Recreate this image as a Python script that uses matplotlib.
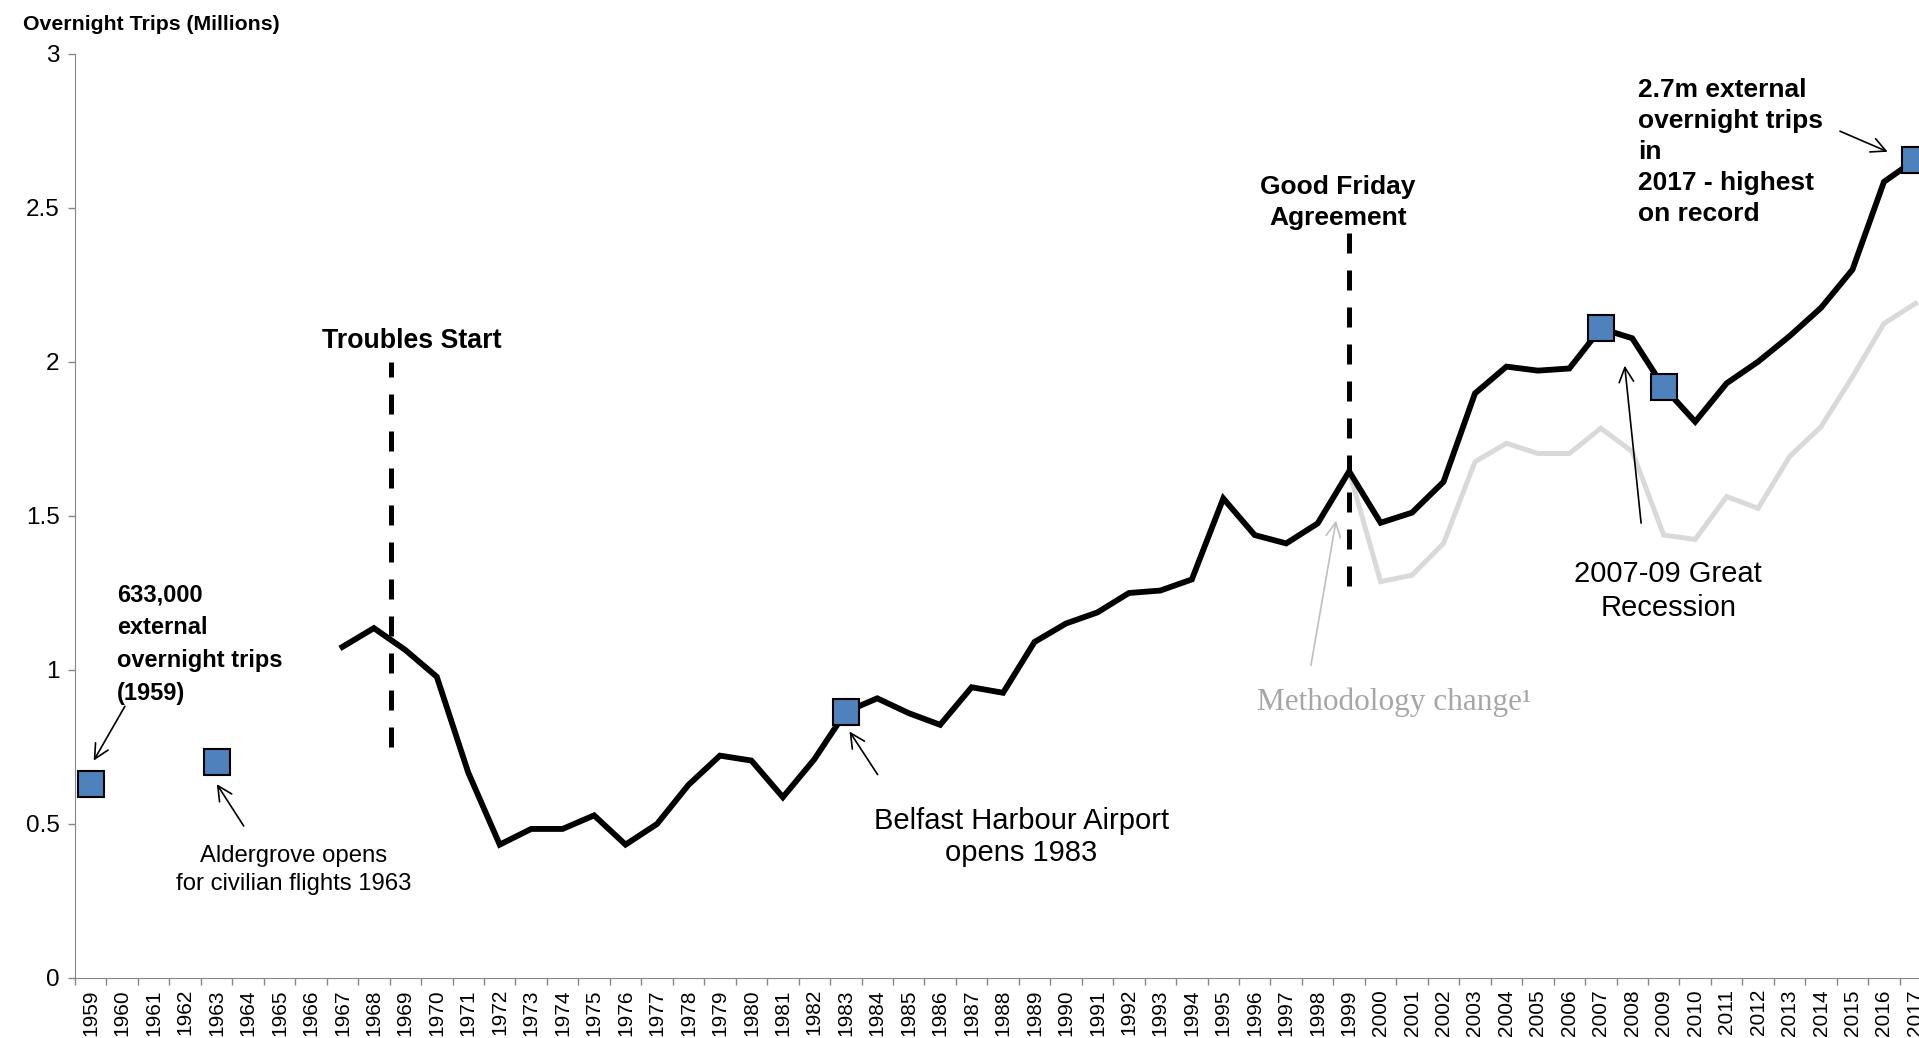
import numpy as np
import matplotlib.pyplot as plt

plt.rcParams['font.family'] = ['Liberation Sans', 'DejaVu Sans']

years = [str(y) for y in range(1959, 2018)]

# external overnight trips (millions), line starts in 1967
trips_start = 1967
trips = [1.075, 1.136, 1.065, 0.978, 0.667, 0.433, 0.484, 0.484, 0.528, 0.433,
         0.500, 0.627, 0.722, 0.706, 0.587, 0.710, 0.864, 0.908, 0.860, 0.822,
         0.944, 0.926, 1.091, 1.151, 1.187, 1.250, 1.258, 1.294, 1.557, 1.438,
         1.411, 1.476, 1.645, 1.478, 1.511, 1.611, 1.898, 1.985, 1.972, 1.979,
         2.109, 2.077, 1.918, 1.806, 1.931, 2.001, 2.084, 2.176, 2.300, 2.585,
         2.657]

# old methodology series from 1999
old_start = 1999
old_trips = [1.645, 1.287, 1.308, 1.411, 1.676, 1.736, 1.703, 1.703, 1.785,
             1.709, 1.438, 1.424, 1.563, 1.525, 1.693, 1.790, 1.952, 2.125,
             2.190]

# highlighted years
mark_years = [1959, 1963, 1983, 2007, 2009, 2017]
mark_vals = [0.630, 0.702, 0.864, 2.109, 1.918, 2.657]

# event lines: (year position, y from, y to)
troubles = (1968.55, 0.75, 2.0)
good_friday = (1999, 2.42, 1.26)

yticks = [0, 0.5, 1, 1.5, 2, 2.5, 3]
ytick_labels = ['0', '0.5', '1', '1.5', '2', '2.5', '3']


def pos(year):
    return np.asarray(year, dtype=float) - 1959


fig = plt.figure(figsize=(19.19, 10.38), dpi=100)
ax = fig.add_axes([75 / 1919, 60 / 1038, 59 * 31.46 / 1919, 924 / 1038])

x_old = pos(np.arange(old_start, old_start + len(old_trips)))
ax.plot(x_old, old_trips, color='#D9D9D9', lw=3.6, zorder=2,
        solid_joinstyle='miter')
x_tr = pos(np.arange(trips_start, trips_start + len(trips)))
ax.plot(x_tr, trips, color='black', lw=4.2, zorder=3, solid_joinstyle='miter')

for ev in (troubles, good_friday):
    ax.plot([pos(ev[0])] * 2, [ev[1], ev[2]], color='black', lw=3.6,
            dashes=(4, 3.4), zorder=4)

ax.plot(pos(mark_years), mark_vals, ls='none', marker='s', ms=18.5,
        mfc='#4F81BD', mec='black', mew=1.5, zorder=5, clip_on=False)

ax.set_xlim(-0.5, 58.5)
ax.set_ylim(0, 3)
ax.set_yticks(yticks)
ax.set_yticklabels(ytick_labels, fontsize=17.5)
ax.set_xticks(np.arange(-0.5, 59), labels=[])
ax.set_xticks(np.arange(59), labels=years, minor=True, rotation=90,
              fontsize=15)
ax.tick_params(axis='x', which='major', length=5, color='#868686', width=1)
ax.tick_params(axis='x', which='minor', length=0, pad=8)
ax.tick_params(axis='y', length=5, color='#868686', width=1, pad=6)
for s in ['top', 'right']:
    ax.spines[s].set_visible(False)
for s in ['left', 'bottom']:
    ax.spines[s].set_color('#868686')

fig.text(23 / 1919, 1 - 30 / 1038, 'Overnight Trips (Millions)',
         fontsize=15.3, fontweight='bold', va='baseline')

arrow = dict(arrowstyle='->', color='black', lw=1.2, mutation_scale=26)

ax.annotate('', xy=(0.05, 0.698), xytext=(1.13, 0.89), arrowprops=arrow)
ax.text(0.84, 1.282, '633,000\nexternal\novernight trips\n(1959)',
        fontsize=17, fontweight='bold', va='top', ha='left', linespacing=1.55)

ax.annotate('', xy=(3.96, 0.637), xytext=(4.91, 0.486), arrowprops=arrow)
ax.text(6.44, 0.432, 'Aldergrove opens\nfor civilian flights 1963',
        fontsize=17.2, va='top', ha='center', linespacing=1.35)

ax.text(10.22, 2.045, 'Troubles Start', fontsize=19.3, fontweight='bold',
        ha='center', va='baseline')

ax.annotate('', xy=(24.07, 0.808), xytext=(25.06, 0.653), arrowprops=arrow)
ax.text(29.58, 0.555, 'Belfast Harbour Airport\nopens 1983', fontsize=21,
        va='top', ha='center', linespacing=1.2)

ax.text(39.65, 2.607, 'Good Friday\nAgreement', fontsize=19,
        fontweight='bold', va='top', ha='center', linespacing=1.36)

ax.annotate('', xy=(39.60, 1.494), xytext=(38.77, 1.006),
            arrowprops=dict(arrowstyle='->', color='#BFBFBF', lw=1.2,
                            mutation_scale=26))
ax.text(37.08, 0.870, 'Methodology change\u00b9', fontsize=22.5,
        family='Liberation Serif', color='#A6A6A6', va='baseline', ha='left')

ax.annotate('', xy=(48.75, 1.997), xytext=(49.29, 1.468), arrowprops=arrow)
ax.text(50.14, 1.357, '2007-09 Great\nRecession', fontsize=21, va='top',
        ha='center', linespacing=1.29)

ax.annotate('', xy=(57.2, 2.679), xytext=(55.52, 2.753), arrowprops=arrow)
ax.text(49.19, 2.922, '2.7m external\novernight trips\nin\n2017 - highest\non record',
        fontsize=19, fontweight='bold', va='top', ha='left', linespacing=1.37)

fig.savefig('out.png', dpi=100)
